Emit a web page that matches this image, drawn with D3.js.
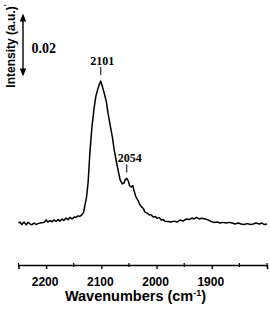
<!DOCTYPE html>
<html><head><meta charset="utf-8">
<script src="https://cdn.jsdelivr.net/npm/d3@7"></script>
<style>body{margin:0;background:#fff}svg{display:block}</style>
</head><body>
<script>
const wavenumbers = [2250,2247,2244,2240,2236,2233,2229,2226,2222,2218,2215,2209,2204,2200,2197,2193,2189,2186,2182,2178,2175,2171,2168,2164,2160,2157,2153,2149,2146,2142,2139,2135,2132,2130,2127,2124,2121,2117,2113,2110,2106,2102,2101,2099,2095,2091,2088,2084,2080,2077,2073,2069,2066,2062,2059,2057,2054,2051,2049,2046,2043,2041,2038,2035,2033,2030,2027,2024,2021,2017,2013,2010,2006,2002,1999,1995,1992,1988,1985,1979,1974,1968,1963,1957,1952,1946,1941,1936,1932,1928,1923,1918,1912,1907,1901,1896,1890,1885,1880,1874,1869,1863,1858,1852,1847,1841,1836,1830,1825,1820,1814,1809,1805,1800];
const intensity = [0.0000,0.0003,-0.0005,0.0003,-0.0006,0.0002,-0.0003,-0.0006,0.0000,-0.0005,-0.0002,0.0001,0.0002,0.0010,0.0003,0.0008,0.0004,0.0010,0.0005,0.0011,0.0006,0.0013,0.0008,0.0016,0.0011,0.0018,0.0013,0.0019,0.0018,0.0023,0.0021,0.0027,0.0035,0.0055,0.0081,0.0129,0.0219,0.0310,0.0372,0.0408,0.0435,0.0455,0.0458,0.0446,0.0420,0.0392,0.0355,0.0316,0.0277,0.0239,0.0200,0.0165,0.0139,0.0126,0.0129,0.0139,0.0144,0.0135,0.0121,0.0116,0.0121,0.0106,0.0087,0.0077,0.0071,0.0058,0.0052,0.0047,0.0035,0.0032,0.0026,0.0027,0.0019,0.0021,0.0015,0.0018,0.0010,0.0011,0.0006,0.0005,0.0003,0.0006,0.0003,0.0010,0.0006,0.0013,0.0011,0.0016,0.0013,0.0018,0.0013,0.0015,0.0013,0.0010,0.0005,0.0002,0.0003,0.0000,0.0002,0.0000,0.0002,0.0000,-0.0003,0.0000,-0.0003,-0.0005,-0.0002,-0.0005,-0.0003,0.0000,-0.0003,0.0000,-0.0005,-0.0003];
const majorTicks = [2200,2100,2000,1900];
const minorTicks = [2250,2150,2050,1950,1850,1800];
const peakLabels = [2101,2054];
const scaleBarValue = 0.02;

const W = 270, H = 311;
const svg = d3.select("body").append("svg").attr("width", W).attr("height", H);

const x = d3.scaleLinear().domain([2250,1800]).range([18.5,267]);
const y = d3.scaleLinear().domain([0,0.02]).range([223,161]);

// axis
const axisY = 265;
const gx = svg.append("g").attr("transform",`translate(0,${axisY})`)
  .call(d3.axisBottom(x).tickValues(majorTicks).tickFormat(d3.format("d")).tickSize(4).tickPadding(8));
gx.select(".domain").attr("stroke","#000").attr("stroke-width",1.6);
gx.selectAll(".tick line").attr("stroke","#000").attr("stroke-width",1.4);
gx.selectAll(".tick text").attr("font-family","Liberation Sans, Arial, sans-serif")
  .attr("font-weight","bold").attr("font-size",12).attr("fill","#000").attr("dx",-1.5);
svg.append("g").selectAll("line").data(minorTicks).join("line")
  .attr("x1",d=>x(d)).attr("x2",d=>x(d)).attr("y1",axisY-2).attr("y2",axisY+2)
  .attr("stroke","#000").attr("stroke-width",1.2);

// axis title
const t = svg.append("text").attr("x",135.5).attr("y",300.5).attr("text-anchor","middle")
  .attr("font-family","Liberation Sans, Arial, sans-serif").attr("font-weight","bold").attr("font-size",14.5);
t.append("tspan").text("Wavenumbers (cm");
t.append("tspan").attr("font-size",9).attr("dy",-5).text("-1");
t.append("tspan").attr("dy",5).text(")");

// spectrum
svg.append("path").datum(wavenumbers.map((w,i)=>[w,intensity[i]]))
  .attr("fill","none").attr("stroke","#000").attr("stroke-width",1.5).attr("stroke-linejoin","round")
  .attr("d", d3.line().x(d=>x(d[0])).y(d=>y(d[1])));

// peak labels
const peakVal = w => { let best=0; wavenumbers.forEach((v,i)=>{ if(Math.abs(v-w)<Math.abs(wavenumbers[best]-w)) best=i;}); return intensity[best]; };
const pg = svg.append("g").selectAll("g").data(peakLabels).join("g");
pg.append("line").attr("x1",d=>x(d)).attr("x2",d=>x(d))
  .attr("y1",d=>y(peakVal(d))-14).attr("y2",d=>y(peakVal(d))-6)
  .attr("stroke","#000").attr("stroke-width",1);
pg.append("text").attr("x",(d,i)=>x(d)+(i?3:1.5)).attr("y",d=>y(peakVal(d))-16.5)
  .attr("text-anchor","middle").attr("font-family","Liberation Serif, Times New Roman, serif")
  .attr("font-weight","bold").attr("font-size",12).text(d=>d);

// scale bar arrow
const ax = 23, yTop = 13.5, yBot = yTop + (y(0) - y(scaleBarValue)) + 1;
svg.append("line").attr("x1",ax).attr("x2",ax).attr("y1",yTop+6).attr("y2",yBot-6)
  .attr("stroke","#000").attr("stroke-width",1.4);
svg.append("path").attr("d",`M${ax},${yTop} L${ax-3.2},${yTop+8} L${ax+3.2},${yTop+8} Z`).attr("fill","#000");
svg.append("path").attr("d",`M${ax},${yBot} L${ax-3.2},${yBot-8} L${ax+3.2},${yBot-8} Z`).attr("fill","#000");
svg.append("text").attr("x",31.5).attr("y",52.5).attr("font-family","Liberation Serif, Times New Roman, serif")
  .attr("font-weight","bold").attr("font-size",14).text(scaleBarValue.toFixed(2));

// y label
const yl = svg.append("text").attr("transform","translate(14.5,46) rotate(-90)").attr("text-anchor","middle")
  .attr("font-family","Liberation Sans, Arial, sans-serif").attr("font-weight","bold").attr("font-size",12);
yl.append("tspan").text("Intensity (a.u.)");
yl.append("tspan").attr("font-size",8).attr("dy",-6).text("'");
</script>
</body></html>
